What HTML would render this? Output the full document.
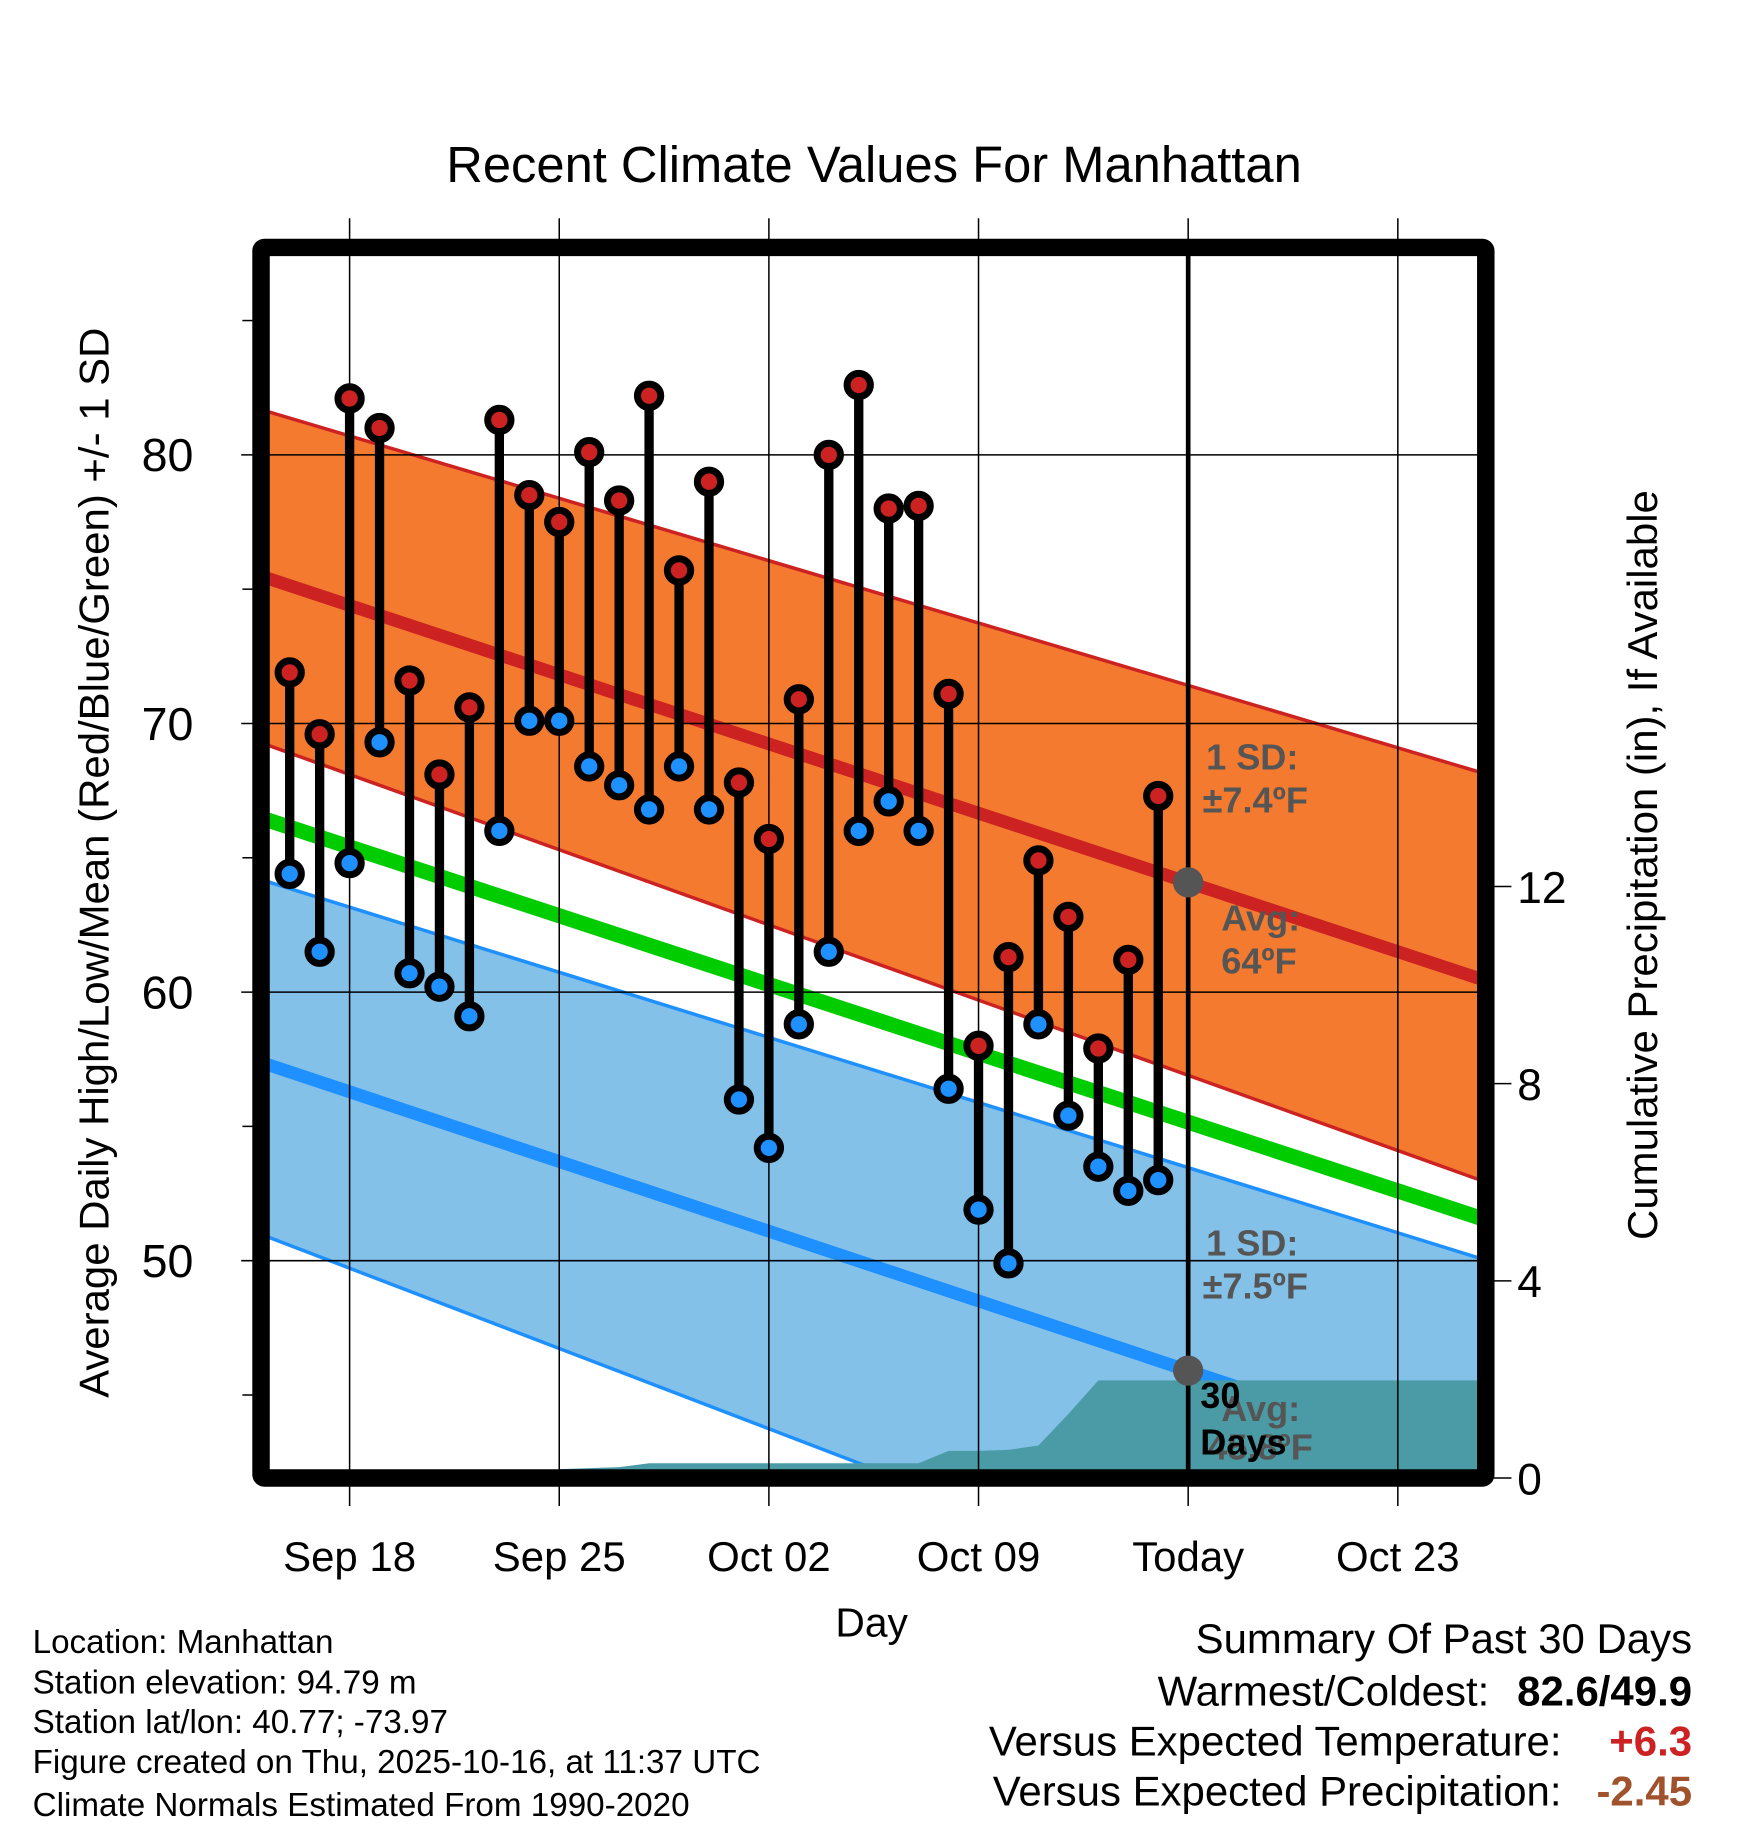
<!DOCTYPE html>
<html><head><meta charset="utf-8"><title>Recent Climate Values For Manhattan</title>
<style>
html,body{margin:0;padding:0;background:#fff;}
svg{display:block;font-family:"Liberation Sans",Arial,sans-serif;}
</style></head>
<body>
<svg id="chart" width="1748" height="1828" viewBox="0 0 1500 1568" xmlns="http://www.w3.org/2000/svg">
<defs><clipPath id="plotClip"><rect x="231" y="219" width="1037" height="1042"/></clipPath></defs>
<g id="bgLayer" clip-path="url(#plotClip)"></g>
<g id="gridLayer"></g>
<g id="fgLayer"></g>
<rect x="224" y="212" width="1051" height="1056" fill="none" stroke="#000" stroke-width="15" rx="3"/>
<text x="750" y="156" font-size="43.5" text-anchor="middle">Recent Climate Values For Manhattan</text>
<text transform="translate(93,740) rotate(-90)" font-size="36" text-anchor="middle">Average Daily High/Low/Mean (Red/Blue/Green) +/- 1 SD</text>
<text transform="translate(1422,742) rotate(-90)" font-size="36" text-anchor="middle">Cumulative Precipitation (in), If Available</text>
<text x="748" y="1404" font-size="35" text-anchor="middle">Day</text>
<g font-size="28.5">
<text x="28" y="1418">Location: Manhattan</text>
<text x="28" y="1453">Station elevation: 94.79 m</text>
<text x="28" y="1487">Station lat/lon: 40.77; -73.97</text>
<text x="28" y="1521">Figure created on Thu, 2025-10-16, at 11:37 UTC</text>
<text x="28" y="1558">Climate Normals Estimated From 1990-2020</text>
</g>
<g font-size="36">
<text x="1452" y="1418" text-anchor="end">Summary Of Past 30 Days</text>
<text x="1278" y="1463" text-anchor="end">Warmest/Coldest:</text>
<text x="1452" y="1463" text-anchor="end" font-weight="bold">82.6/49.9</text>
<text x="1340" y="1506" text-anchor="end">Versus Expected Temperature:</text>
<text x="1452" y="1506" text-anchor="end" font-weight="bold" fill="#cc2222">+6.3</text>
<text x="1340" y="1549" text-anchor="end">Versus Expected Precipitation:</text>
<text x="1452" y="1549" text-anchor="end" font-weight="bold" fill="#a0522d">-2.45</text>
</g>
</svg>
<script>
// Day offsets relative to Sep 18 (0). Observations Sep 16 .. Oct 15.
const obsDays = [-2,-1,0,1,2,3,4,5,6,7,8,9,10,11,12,13,14,15,16,17,18,19,20,21,22,23,24,25,26,27];
const highs = [71.9,69.6,82.1,81.0,71.6,68.1,70.6,81.3,78.5,77.5,80.1,78.3,82.2,75.7,79.0,67.8,65.7,70.9,80.0,82.6,78.0,78.1,71.1,58.0,61.3,64.9,62.8,57.9,61.2,67.3];
const lows = [64.4,61.5,64.8,69.3,60.7,60.2,59.1,66.0,70.1,70.1,68.4,67.7,66.8,68.4,66.8,56.0,54.2,58.8,61.5,66.0,67.1,66.0,56.4,51.9,49.9,58.8,55.4,53.5,52.6,53.0];
const precipDays = [-3,6,7,8,9,10,19,20,21,22,23,24,25,26,27,28,38];
const precipCum = [0,0,0.18,0.2,0.22,0.3,0.3,0.55,0.55,0.57,0.66,1.3,1.98,1.98,1.98,1.98,1.98];
const normDays = [-3,38];
const normHigh = [75.5,60.4];
const normHighUp = [81.7,68.1];
const normHighLo = [69.3,52.9];
const normMean = [66.5,51.5];
const normLow = [57.4,42.2];
const normLowUp = [64.2,50.0];
const normLowLo = [51.0,33.5];
const xTickDays = [0,7,14,21,28,35];
const xTickLabels = ["Sep 18","Sep 25","Oct 02","Oct 09","Today","Oct 23"];
const yTicks = [50,60,70,80];
const yMinor = [45,55,65,75,85];
const y2Ticks = [0,4,8,12];
const todayDay = 28;

const NS="http://www.w3.org/2000/svg";
const X = d => 300 + d*25.7;
const Y = v => 390 + (80-v)*23.05;
const Y2 = p => 1268 - p*42.3;
function mk(parent,tag,attrs){const e=document.createElementNS(NS,tag);for(const k in attrs)e.setAttribute(k,attrs[k]);parent.appendChild(e);return e;}
const bg=document.getElementById('bgLayer'), grid=document.getElementById('gridLayer'), fg=document.getElementById('fgLayer'), svg=document.getElementById('chart');
function lineAt(arr,d){const t=(d-normDays[0])/(normDays[1]-normDays[0]);return arr[0]+t*(arr[1]-arr[0]);}
function band(up,lo,fill,name){
  const d0=normDays[0],d1=normDays[1];
  const p=`M${X(d0)},${Y(up[0])} L${X(d1)},${Y(up[1])} L${X(d1)},${Y(lo[1])} L${X(d0)},${Y(lo[0])} Z`;
  const e=mk(bg,'path',{d:p,fill:fill});
  
  
}
function nline(arr,color,w,name){
  const e=mk(bg,'line',{x1:X(normDays[0]),y1:Y(arr[0]),x2:X(normDays[1]),y2:Y(arr[1]),stroke:color,'stroke-width':w});
  
  
}
band(normLowUp,normLowLo,'#84c1e8','low-sd-band');
nline(normLowUp,'#1e90ff',3,'low-sd-upper');
nline(normLowLo,'#1e90ff',3,'low-sd-lower');
band(normHighUp,normHighLo,'#f47a2f','high-sd-band');
nline(normHighUp,'#cc2222',3,'high-sd-upper');
nline(normHighLo,'#cc2222',3,'high-sd-lower');
nline(normMean,'#00cc00',13,'mean-normal-line');
nline(normHigh,'#cc2222',11,'high-normal-line');
nline(normLow,'#1e90ff',11,'low-normal-line');
// precip area
let pd=`M${X(precipDays[0])},${Y2(0)}`;
precipDays.forEach((d,i)=>{pd+=` L${X(d)},${Y2(precipCum[i])}`;});
pd+=` L${X(precipDays[precipDays.length-1])},${Y2(0)} Z`;
const pa=mk(bg,'path',{d:pd,fill:'#4a9ba5'});


// grid
xTickDays.forEach((d,i)=>{
  const g=mk(grid,'line',{x1:X(d),y1:187,x2:X(d),y2:1292,stroke:'#000','stroke-width':1.3});
  
  
  const t=mk(svg,'text',{x:X(d),y:1348,'font-size':36,'text-anchor':'middle'});
  t.textContent=xTickLabels[i];
  
  
});
yTicks.forEach(v=>{
  const g=mk(grid,'line',{x1:207,y1:Y(v),x2:1268,y2:Y(v),stroke:'#000','stroke-width':1.3});
  
  
  const t=mk(svg,'text',{x:166,y:Y(v)+14,'font-size':40,'text-anchor':'end'});
  t.textContent=v;
  
  
});
yMinor.forEach(v=>{
  const g=mk(grid,'line',{x1:208,y1:Y(v),x2:218,y2:Y(v),stroke:'#000','stroke-width':1.3});
  
  
});
y2Ticks.forEach(p=>{
  const g=mk(grid,'line',{x1:1275,y1:Y2(p),x2:1297,y2:Y2(p),stroke:'#000','stroke-width':1.3});
  
  
  const t=mk(svg,'text',{x:1302,y:Y2(p)+14,'font-size':38});
  t.textContent=p;
  
  
});
// today line
const tl=mk(fg,'line',{x1:X(todayDay),y1:219,x2:X(todayDay),y2:1261,stroke:'#000','stroke-width':4});


// stems and markers
obsDays.forEach((d,i)=>{
  const s=mk(fg,'line',{x1:X(d),y1:Y(highs[i]),x2:X(d),y2:Y(lows[i]),stroke:'#000','stroke-width':8});
  
  
});
obsDays.forEach((d,i)=>{
  const h=mk(fg,'circle',{cx:X(d),cy:Y(highs[i]),r:10,fill:'#cc2222',stroke:'#000','stroke-width':6});
  
  
  const l=mk(fg,'circle',{cx:X(d),cy:Y(lows[i]),r:10,fill:'#1e90ff',stroke:'#000','stroke-width':6});
  
  
});
// today normals dots
const dh=mk(fg,'circle',{cx:X(todayDay),cy:Y(lineAt(normHigh,todayDay)),r:13,fill:'#555'});


const dl=mk(fg,'circle',{cx:X(todayDay),cy:Y(lineAt(normLow,todayDay)),r:13,fill:'#555'});


// annotations
function ann(x,y,txt,color,name){
  const t=mk(fg,'text',{x:x,y:y,'font-size':31,'font-weight':'bold',fill:color});
  t.textContent=txt;
  
  
}
ann(1035,660,'1 SD:','#555','high-sd-label');
ann(1032,697,'±7.4ºF','#555','high-sd-value');
ann(1048,798,'Avg:','#555','high-avg-label');
ann(1048,835,'64ºF','#555','high-avg-value');
ann(1035,1077,'1 SD:','#555','low-sd-label');
ann(1032,1114,'±7.5ºF','#555','low-sd-value');
ann(1048,1219,'Avg:','#555','low-avg-label');
ann(1036,1252,'45.8ºF','#555','low-avg-value');
ann(1030,1208,'30','#000','period-label');
ann(1030,1248,'Days','#000','period-label-days');
</script>
</body></html>
